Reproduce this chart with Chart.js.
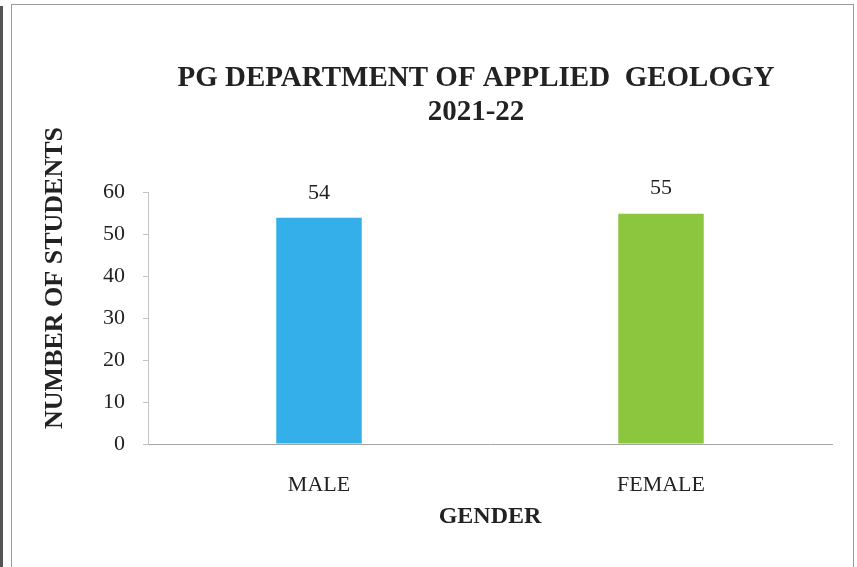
<!DOCTYPE html>
<html>
<head>
<meta charset="utf-8">
<script src="https://cdn.jsdelivr.net/npm/chart.js@4.4.1/dist/chart.umd.min.js"></script>
<style>
html, body { margin: 0; padding: 0; background: #fff; }
#wrap { position: relative; width: 857px; height: 567px; overflow: hidden; }
#frame { position: absolute; left: 11px; top: 4px; width: 841px; height: 600px; border: 1px solid #9a9a9a; }
#edge { position: absolute; left: 0; top: 6px; width: 3px; height: 600px; background: #555; }
canvas { position: absolute; left: 0; top: 0; }
</style>
</head>
<body>
<div id="wrap">
  <div id="edge"></div>
  <div id="frame"></div>
  <canvas id="genderChart" width="857" height="567"></canvas>
</div>
<script>
const categories = ['MALE', 'FEMALE'];
const students = [54, 55];
const barColors = ['#35afea', '#8cc63e'];
const titleLines = ['PG DEPARTMENT OF APPLIED  GEOLOGY', '2021-22'];
const yAxisTitle = 'NUMBER OF STUDENTS';
const xAxisTitle = 'GENDER';
const yMin = 0, yMax = 60, yStep = 10;

const serif = "'Liberation Serif', 'Times New Roman', serif";
const textColor = '#222';

// value above each bar
const valueLabels = {
    id: 'valueLabels',
    afterDatasetsDraw(chart) {
        const ctx = chart.ctx;
        const meta = chart.getDatasetMeta(0);
        ctx.save();
        ctx.font = '22px ' + serif;
        ctx.fillStyle = textColor;
        ctx.textAlign = 'center';
        ctx.textBaseline = 'middle';
        meta.data.forEach((bar, i) => {
            ctx.fillText(String(students[i]), bar.x, bar.y - 25);
        });
        ctx.restore();
    }
};

// y axis title sits higher than the axis centre in the original
const yTitle = {
    id: 'yTitle',
    afterDraw(chart) {
        const ctx = chart.ctx;
        ctx.save();
        ctx.translate(55, 278);
        ctx.rotate(-Math.PI / 2);
        ctx.font = 'bold 26px ' + serif;
        ctx.fillStyle = textColor;
        ctx.textAlign = 'center';
        ctx.textBaseline = 'middle';
        ctx.fillText(yAxisTitle, 0, 0);
        ctx.restore();
    }
};

const ctx = document.getElementById('genderChart').getContext('2d');
new Chart(ctx, {
    type: 'bar',
    data: {
        labels: categories,
        datasets: [{
            data: students,
            backgroundColor: barColors,
            borderWidth: 0,
            categoryPercentage: 1,
            barPercentage: 0.25
        }]
    },
    options: {
        responsive: false,
        animation: false,
        devicePixelRatio: 1,
        layout: { padding: { left: 95, right: 0, top: 0, bottom: 0 } },
        plugins: {
            legend: { display: false },
            tooltip: { enabled: false },
            title: {
                display: true,
                text: titleLines,
                color: textColor,
                font: { family: serif, size: 29, weight: 'bold', lineHeight: 1.15 },
                padding: { top: 62, bottom: 64 }
            }
        },
        scales: {
            x: {
                grid: { display: true, drawOnChartArea: false, drawTicks: false },
                border: { display: true, color: '#a6a6a6', width: 1 },
                ticks: { color: textColor, font: { family: serif, size: 22 }, padding: 28 },
                title: {
                    display: true,
                    text: xAxisTitle,
                    color: textColor,
                    font: { family: serif, size: 24, weight: 'bold', lineHeight: 1.2 },
                    padding: { top: 0, bottom: 36 }
                },
                afterFit(scale) { scale.height = 123; }
            },
            y: {
                min: yMin,
                max: yMax,
                grid: { display: true, drawOnChartArea: false, drawTicks: true, tickLength: 5, color: '#c4c4c4' },
                border: { display: true, color: '#c4c4c4', width: 1 },
                ticks: { stepSize: yStep, color: textColor, font: { family: serif, size: 22 }, padding: 18 },
                afterFit(scale) { scale.width = 53; }
            },
            // empty spacer on the right so the title centres like the original
            spacer: {
                type: 'linear',
                position: 'right',
                grid: { display: false },
                border: { display: false },
                ticks: { display: false },
                afterFit(scale) { scale.width = 25; }
            }
        }
    },
    plugins: [valueLabels, yTitle]
});
</script>
</body>
</html>
